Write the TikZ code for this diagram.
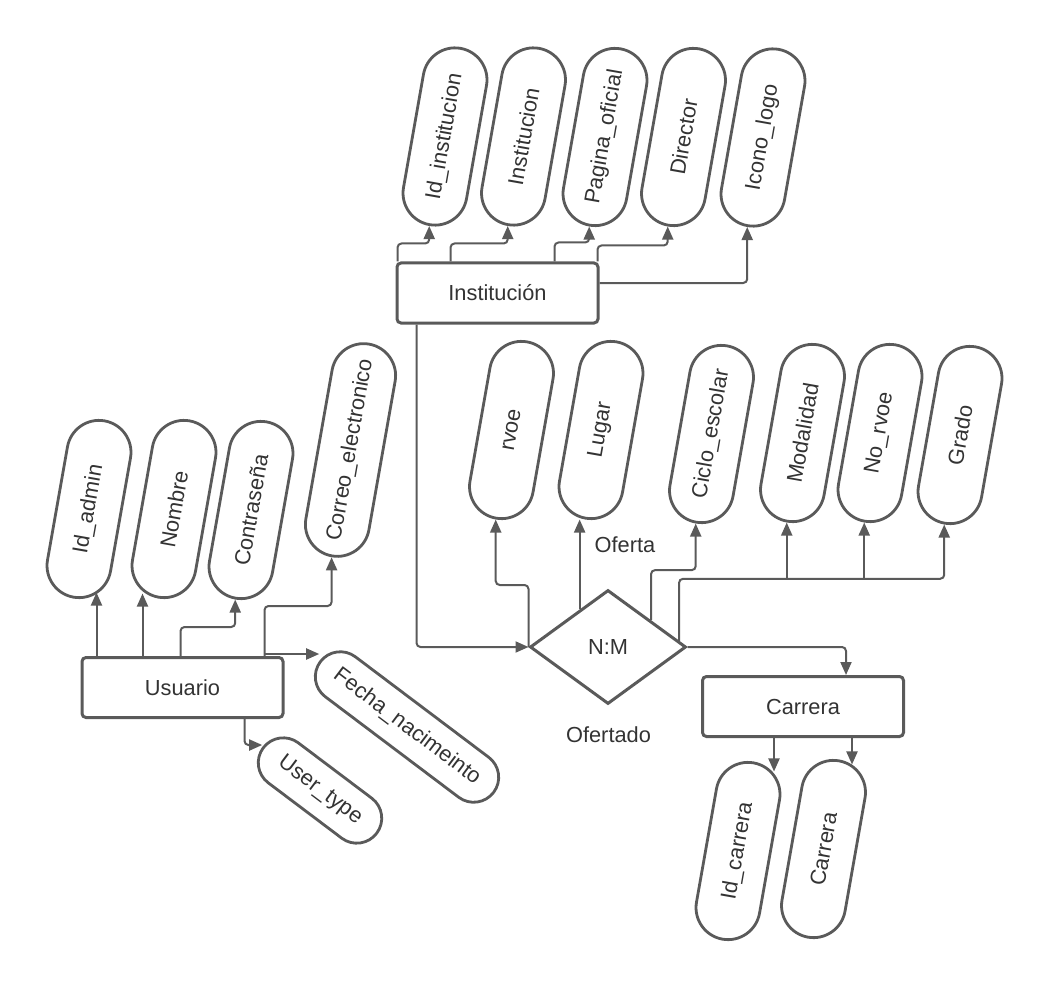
\documentclass[tikz,border=0pt]{standalone}
\usepackage{fontspec}
\setmainfont{Liberation Sans}
\usetikzlibrary{shapes.geometric,arrows.meta}
\definecolor{erline}{HTML}{5A5A5A}
\definecolor{ertext}{HTML}{333333}

\begin{document}
\begin{tikzpicture}[x=0.5pt,y=-0.5pt,font=\fontsize{10.9}{13}\selectfont,
  er-entity/.style={draw=erline,line width=1.5pt,rounded corners=2pt,fill=white,text=ertext,minimum width=100.5pt,minimum height=30pt,inner sep=0pt},
  er-attribute/.style={rectangle,rounded corners=16pt,draw=erline,line width=1.4pt,fill=white,text=ertext,minimum width=89.5pt,minimum height=32pt,inner sep=0pt},
  er-attribute-thin/.style={er-attribute,rounded corners=12.5pt,minimum height=25pt},
  er-relation/.style={diamond,draw=erline,line width=1.5pt,fill=white,text=ertext,minimum width=78pt,minimum height=57pt,inner sep=0pt},
  er-label/.style={text=ertext,inner sep=0pt},
  er-link/.style={draw=erline,line width=1pt,rounded corners=2pt,-{Triangle[length=6.5pt,width=5.5pt]}}]
\useasboundingbox (0,0) rectangle (1052,989);
\node[er-entity] (ent-institucion) at (497.5,293) {Institución};
\node[er-entity] (ent-usuario) at (182.5,687.5) {Usuario};
\node[er-entity] (ent-carrera) at (803,706.5) {Carrera};
\node[er-relation] (rel-ofertado) at (608,647) {N:M};
\node[er-attribute,rotate=80] (attr-id-institucion) at (445,136.5) {Id\_institucion};
\node[er-attribute,rotate=80] (attr-institucion) at (523.5,136.5) {Institucion};
\node[er-attribute,rotate=80] (attr-pagina-oficial) at (605,137) {Pagina\_oficial};
\node[er-attribute,rotate=80] (attr-director) at (683.5,137) {Director};
\node[er-attribute,rotate=80] (attr-icono-logo) at (763,137.5) {Icono\_logo};
\node[er-attribute,rotate=80] (attr-rvoe) at (511.5,430) {rvoe};
\node[er-attribute,rotate=80] (attr-lugar) at (601,430) {Lugar};
\node[er-attribute,rotate=80] (attr-ciclo-escolar) at (711.5,434) {Ciclo\_escolar};
\node[er-attribute,rotate=80] (attr-modalidad) at (802.5,433) {Modalidad};
\node[er-attribute,rotate=80] (attr-no-rvoe) at (880,433) {No\_rvoe};
\node[er-attribute,rotate=80] (attr-grado) at (960,435) {Grado};
\node[er-attribute,rotate=80] (attr-id-admin) at (89,509) {Id\_admin};
\node[er-attribute,rotate=80] (attr-nombre) at (174,509) {Nombre};
\node[er-attribute,rotate=80] (attr-contrasena) at (251,510) {Contraseña};
\node[er-attribute,rotate=80,minimum width=107.5pt] (attr-correo-electronico) at (350.5,450) {Correo\_electronico};
\node[er-attribute-thin,rotate=-37,minimum width=108.5pt] (attr-fecha-nacimeinto) at (407,727) {Fecha\_nacimeinto};
\node[er-attribute-thin,rotate=-37,minimum width=71pt] (attr-user-type) at (320,790.5) {User\_type};
\node[er-attribute,rotate=80] (attr-id-carrera) at (738,851) {Id\_carrera};
\node[er-attribute,rotate=80] (attr-carrera) at (823.5,849) {Carrera};
\node[er-label] (lbl-oferta) at (625,545) {Oferta};
\node[er-label] (lbl-ofertado) at (608.5,735) {Ofertado};
\draw[er-link] ([xshift=1pt]ent-institucion.north west) -- ++(0,-18) -| (attr-id-institucion.west);
\draw[er-link] ([xshift=27.5pt]ent-institucion.north west) -- ++(0,-18) -| (attr-institucion.west);
\draw[er-link] ([xshift=79.5pt]ent-institucion.north west) -- ++(0,-19) -| (attr-pagina-oficial.west);
\draw[er-link] ([xshift=-1pt]ent-institucion.north east) -- ++(0,-16) -| (attr-director.west);
\draw[er-link] ([yshift=5pt]ent-institucion.east) -| (attr-icono-logo.west);
\draw[er-link] ([xshift=10.5pt]ent-institucion.south west) |- (rel-ofertado.west);
\draw[er-link] (rel-ofertado.west) -- ++(0,-62) -| (attr-rvoe.west);
\draw[er-link] (rel-ofertado.127) -- (rel-ofertado.127 |- attr-lugar.west);
\draw[er-link] (rel-ofertado.32) -- ++(0,-50) -| (attr-ciclo-escolar.west);
\draw[er-link] (rel-ofertado.5) -- ++(0,-62) coordinate (oferta-bus) -| (attr-grado.west);
\draw[er-link] (oferta-bus -| attr-modalidad.west) -- (attr-modalidad.west);
\draw[er-link] (oferta-bus -| attr-no-rvoe.west) -- (attr-no-rvoe.west);
\draw[er-link] (rel-ofertado.east) -| ([xshift=21.5pt]ent-carrera.north);
\draw[er-link] ([xshift=-14.5pt]ent-carrera.south) -- ([xshift=-14.5pt,yshift=-5pt]ent-carrera.south |- attr-id-carrera.east);
\draw[er-link] ([xshift=24.5pt]ent-carrera.south) -- ([xshift=24.5pt,yshift=-2.5pt]ent-carrera.south |- attr-carrera.east);
\draw[er-link] ([xshift=8pt]ent-usuario.north west) -- ([xshift=8pt,yshift=3pt]ent-usuario.north west |- attr-id-admin.west);
\draw[er-link] ([xshift=31pt]ent-usuario.north west) -- ([xshift=31pt,yshift=2.5pt]ent-usuario.north west |- attr-nombre.west);
\draw[er-link] ([xshift=50pt]ent-usuario.north west) -- ++(0,-29) -| (attr-contrasena.west);
\draw[er-link] ([xshift=-10pt]ent-usuario.north east) -- ++(0,-50) -| (attr-correo-electronico.west);
\draw[er-link] ([xshift=-10pt,yshift=1pt]ent-usuario.north east) coordinate (fecha-start) -- (fecha-start -| attr-fecha-nacimeinto.west);
\draw[er-link] ([xshift=-20pt]ent-usuario.south east) -- ++(0,26) coordinate (user-type-bend) -- (user-type-bend -| attr-user-type.west);
\end{tikzpicture}
\end{document}
